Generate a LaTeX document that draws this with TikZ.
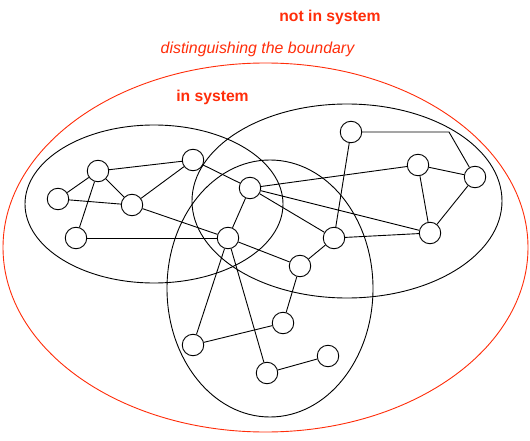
\documentclass[tikz,border=0pt]{standalone}
\usepackage{fontspec}
\setmainfont{Liberation Sans}
\definecolor{boundred}{RGB}{255,45,10}

\begin{document}
\begin{tikzpicture}[x=1pt,y=-1pt]
\tikzstyle{every path}=[line width=0.9pt];
\tikzstyle{elem}=[circle,draw,minimum size=21.5pt,inner sep=0pt];
\tikzstyle{lbl}=[text=boundred,anchor=base];
\useasboundingbox (0,0) rectangle (530,441);
% boundary and subsystems
\draw[boundred] (265.5,247.5) ellipse [x radius=262.5pt,y radius=184.5pt];
\draw (154,204) ellipse [x radius=129pt,y radius=79pt];
\draw (347,201) ellipse [x radius=155pt,y radius=97pt];
\draw (270,288.5) ellipse [x radius=103pt,y radius=128.5pt];
\node[lbl,font=\fontsize{15.7}{18}\selectfont\bfseries] (outside) at (330,22) {not in system};
\node[lbl,font=\fontsize{15.9}{18}\selectfont\itshape] (boundary) at (257.5,54) {distinguishing the boundary};
\node[lbl,font=\fontsize{15.7}{18}\selectfont\bfseries] (inside) at (212.5,102) {in system};
% elements
\node[elem] (va) at (98,171) {};
\node[elem] (vb) at (193,160) {};
\node[elem] (vc) at (58,199) {};
\node[elem] (vd) at (132,205) {};
\node[elem] (ve) at (76,238) {};
\node[elem] (vf) at (250,188) {};
\node[elem] (vg) at (228,238) {};
\node[elem] (vh) at (351,132) {};
\node[elem] (vi) at (418,165) {};
\node[elem] (vj) at (475,177) {};
\node[elem] (vk) at (430,233) {};
\node[elem] (vl) at (334,238) {};
\node[elem] (vm) at (300,266) {};
\node[elem] (vo) at (283,323) {};
\node[elem] (vp) at (193,345) {};
\node[elem] (vq) at (267,373) {};
\node[elem] (vr) at (328,356) {};
\coordinate (bend) at (449,132);
% relations
\path (va) edge (vb);
\path (va) edge (vc);
\path (va) edge (vd);
\path (va) edge (ve);
\path (vc) edge (vd);
\path (vd) edge (vb);
\path (vd) edge (vg);
\path (ve) edge (vg);
\path (vb) edge (vf);
\path (vf) edge (vg);
\path (vf) edge (vi);
\path (vf) edge (vk);
\path (vf) edge (vl);
\path (vg) edge (vm);
\path (vg) edge (vp);
\path (vg) edge (vq);
\path (vm) edge (vl);
\path (vm) edge (vo);
\path (vl) edge (vh);
\path (vl) edge (vk);
\path (vi) edge (vj);
\path (vi) edge (vk);
\path (vj) edge (vk);
\draw (vh) -- (bend) -- (vj);
\path (vp) edge (vo);
\path (vq) edge (vr);
\end{tikzpicture}
\end{document}
